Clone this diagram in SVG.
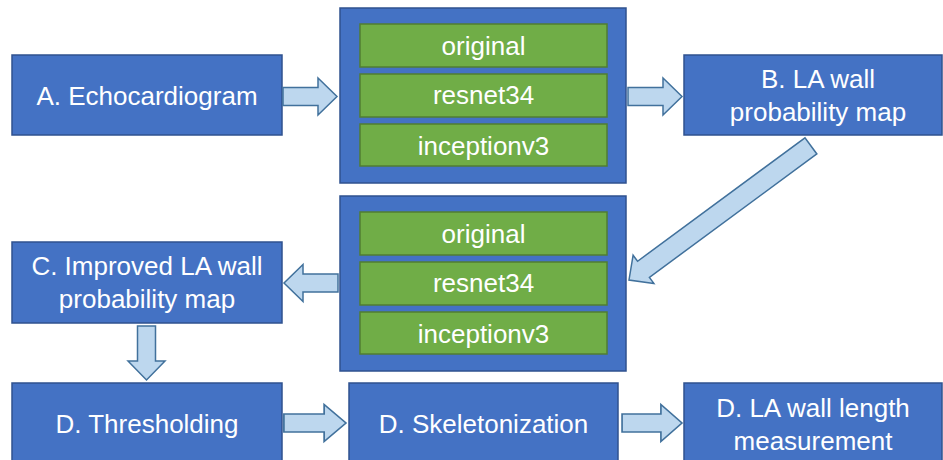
<svg xmlns="http://www.w3.org/2000/svg" width="943" height="460" viewBox="0 0 943 460">
  <style>
    .box { fill: #4472C4; stroke: #2F528F; stroke-width: 1.5; }
    .model { fill: #70AD47; stroke: #507E32; stroke-width: 1.5; }
    .arrow { fill: #BDD7EE; stroke: #41719C; stroke-width: 1.5; stroke-linejoin: miter; }
    text { font-family: "Liberation Sans", Arial, sans-serif; font-size: 26px; fill: #FFFFFF; text-anchor: middle; }
  </style>
  <defs>
    <!-- block arrow pointing right, tip at the origin -->
    <polygon id="blockArrow" points="-54,-9 -19,-9 -19,-18.5 0,0 -19,18.5 -19,9 -54,9"/>
  </defs>
  <rect width="943" height="460" fill="#FFFFFF"/>

  <g id="echo">
    <rect class="box" x="12" y="55" width="270" height="80"/>
    <text x="147" y="105">A. Echocardiogram</text>
  </g>

  <g id="models-1">
    <rect class="box" x="340" y="8" width="286" height="175"/>
    <rect class="model" x="360" y="24" width="247" height="43"/>
    <text x="483.5" y="55">original</text>
    <rect class="model" x="360" y="74" width="247" height="43"/>
    <text x="483.5" y="104">resnet34</text>
    <rect class="model" x="360" y="124" width="247" height="42"/>
    <text x="483.5" y="155">inceptionv3</text>
  </g>

  <g id="prob-map">
    <rect class="box" x="684" y="55" width="258" height="80"/>
    <text x="818" y="88">B. LA wall</text>
    <text x="818" y="121">probability map</text>
  </g>

  <g id="models-2">
    <rect class="box" x="340" y="196" width="286" height="175"/>
    <rect class="model" x="360" y="212" width="247" height="43"/>
    <text x="483.5" y="243">original</text>
    <rect class="model" x="360" y="262" width="247" height="43"/>
    <text x="483.5" y="292">resnet34</text>
    <rect class="model" x="360" y="312" width="247" height="42"/>
    <text x="483.5" y="343">inceptionv3</text>
  </g>

  <g id="improved-map">
    <rect class="box" x="12" y="242" width="270" height="81"/>
    <text x="147" y="275">C. Improved LA wall</text>
    <text x="147" y="308">probability map</text>
  </g>

  <g id="thresholding">
    <rect class="box" x="12" y="383" width="270" height="90"/>
    <text x="147" y="433">D. Thresholding</text>
  </g>

  <g id="skeletonization">
    <rect class="box" x="349" y="383" width="269" height="90"/>
    <text x="483.5" y="433">D. Skeletonization</text>
  </g>

  <g id="length">
    <rect class="box" x="684" y="383" width="258" height="90"/>
    <text x="813" y="417">D. LA wall length</text>
    <text x="813" y="450">measurement</text>
  </g>

  <g id="connectors">
    <use href="#blockArrow" class="arrow" transform="translate(337,96.5)"/>
    <use href="#blockArrow" class="arrow" transform="translate(682,96.5)"/>
    <!-- long diagonal arrow from B down to the second model block -->
    <polygon class="arrow" transform="translate(629,280) rotate(143.6)" points="-226,-10 -18,-10 -18,-17.5 0,0 -18,17.5 -18,10 -226,10"/>
    <use href="#blockArrow" class="arrow" transform="translate(284,283) rotate(180)"/>
    <use href="#blockArrow" class="arrow" transform="translate(146.5,380) rotate(90)"/>
    <use href="#blockArrow" class="arrow" transform="translate(346,423) scale(1.15,1)"/>
    <use href="#blockArrow" class="arrow" transform="translate(682,423) scale(1.11,1)"/>
  </g>
</svg>
